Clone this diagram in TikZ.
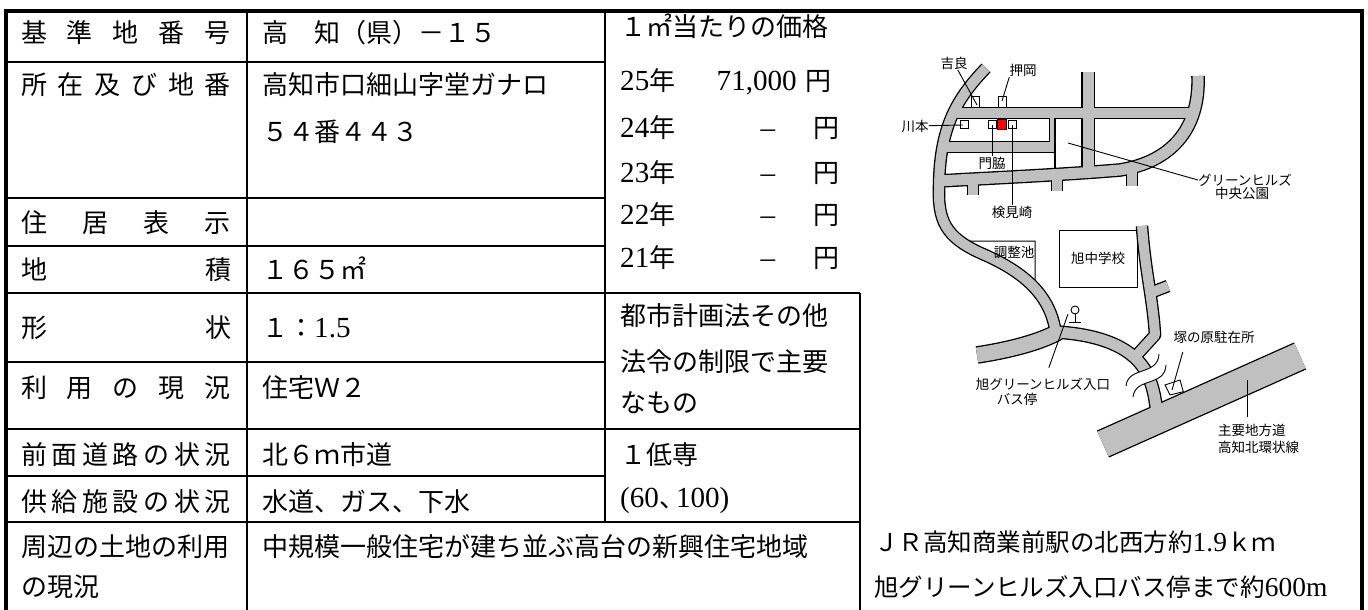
\documentclass[tikz,border=0pt]{standalone}
\usepackage{fontspec}
\usetikzlibrary{calc}
\setmainfont{Noto Sans CJK JP}
\newfontfamily\lat[Scale=1.12]{Liberation Serif}
\definecolor{roadgray}{RGB}{192,192,192}
\newcommand\spread[1]{\makebox[210pt][s]{#1}}
\tikzset{
  cell/.style={anchor=west, inner sep=0pt, font=\fontsize{26}{30}\selectfont, text height=22.9pt, text depth=3.1pt},
  lbl/.style={cell, anchor=center},
  note/.style={anchor=west, inner sep=0pt, font=\fontsize{24.5}{28}\selectfont, text height=21.6pt, text depth=2.9pt},
  tag/.style={inner sep=0pt, font=\fontsize{13.5}{15}\selectfont, text height=11.9pt, text depth=1.6pt},
  outer/.style={line width=3.5pt},
  inner/.style={line width=2.2pt},
  leader/.style={line width=0.9pt},
  house/.style={draw, fill=white, line width=0.9pt}
}
\begin{document}
\begin{tikzpicture}[x=1pt, y=-1pt]
  \useasboundingbox (0,0) rectangle (1368,610);
  \draw[outer] (6,610) -- (6,11) -- (1362,11) -- (1362,610);
  \draw[inner] (247,11) -- (247,610) (605,11) -- (605,522) (860,293) -- (860,610);
  \foreach \y in {62,198,246,362,476}
    \draw[inner] (6,\y) -- (605,\y);
  \foreach \y in {293,429,522}
    \draw[inner] (6,\y) -- (860,\y);

  \draw
    (126,33) node[lbl] (kijun) {\spread{基 準 地 番 号}}
    (126,85) node[lbl] (shozai) {\spread{所 在 及 び 地 番}}
    (126,223) node[lbl] (jukyo) {\spread{住 居 表 示}}
    (126,270) node[lbl] (chiseki) {\spread{地 積}}
    (126,328) node[lbl] (keijo) {\spread{形 状}}
    (126,388) node[lbl] (riyo) {\spread{利 用 の 現 況}}
    (126,455) node[lbl] (zenmen) {\spread{前 面 道 路 の 状 況}}
    (126,502) node[lbl] (kyokyu) {\spread{供 給 施 設 の 状 況}}
    (21,547) node[cell] (shuhen) {周辺の土地の利用}
    (21,587) node[cell] (shuhenb) {の現況};
  \draw
    (262,33) node[cell] (bango) {高　知（県）－１５}
    (262,85) node[cell] (chiban) {高知市口細山字堂ガナロ}
    (262,132) node[cell] (chibanb) {５４番４４３}
    (262,270) node[cell] (menseki) {１６５㎡}
    (262,328) node[cell] (katachi) {１：{\lat 1.5}}
    (262,388) node[cell] (genkyo) {住宅Ｗ２}
    (262,455) node[cell] (doro) {北６ｍ市道}
    (262,502) node[cell] (shisetsu) {水道、ガス、下水}
    (262,547) node[cell] (chiiki) {中規模一般住宅が建ち並ぶ高台の新興住宅地域};
  \draw
    (620,27) node[cell] (kakaku) {１㎡当たりの価格}
    (620,81) node[cell] (y25) {{\lat 25}年}
    (797,81) node[cell, anchor=east] (p25) {\lat 71,000}
    (818,81) node[lbl] (e25) {円};
  \foreach \yr/\y in {24/128, 23/173, 22/215, 21/258}
    \draw (620,\y) node[cell] (y\yr) {{\lat\yr}年}
          (768,\y) node[lbl] (d\yr) {\lat –}
          (826,\y) node[lbl] (e\yr) {円};
  \draw
    (620,316) node[cell] (toshi) {都市計画法その他}
    (620,362) node[cell] (horei) {法令の制限で主要}
    (620,403) node[cell] (namono) {なもの}
    (620,455) node[cell] (teisen) {１低専}
    (620,498) node[cell] (yoseki) {{\lat (60}、\kern-9pt{\lat 100)}}
    (874,542) node[note] (eki) {ＪＲ高知商業前駅の北西方約{\lat 1.9}ｋｍ}
    (874,587) node[note] (bus) {旭グリーンヒルズ入口バス停まで約{\lat 600m}};

  \draw[line width=1pt] (969,241) -- (1035,241) -- (1035,284) -- cycle;
  \draw (1098,258.5) node[tag, draw, line width=1pt, minimum width=78pt, minimum height=57pt] (school) {旭中学校};

  \foreach \ink/\extra in {black/2.6pt, roadgray/0pt} {
    \begin{scope}[color=\ink, line join=round]
      \draw[line width=10pt+\extra] (986,68) .. controls (955,100) and (939,130) .. (939,190)
        .. controls (938,225) and (950,240) .. (985,255) .. controls (1030,275) and (1052,300) .. (1056,335);
      \draw[line width=15pt+\extra] (977,355) .. controls (1010,350) and (1040,342) .. (1058,332);
      \draw[line width=11pt+\extra] (1055,332) .. controls (1095,334) and (1130,345) .. (1145,370)
        .. controls (1152,382) and (1155,395) .. (1157,414);
      \draw[line width=10pt+\extra] (1142,226) .. controls (1145,270) and (1153,300) .. (1155,335) -- (1135,357);
      \draw[line width=10pt+\extra] (1150,293) -- (1168,286);
      \draw[line width=10pt+\extra] (957,113) -- (1196,113);
      \draw[line width=11pt+\extra] (1198,76) .. controls (1200,130) and (1170,162) .. (1120,170)
        .. controls (1060,175) and (990,178) .. (939,181);
      \draw[line width=11pt+\extra] (1088,72) -- (1088,172);
      \draw[line width=10pt+\extra] (944,147) -- (1055,147);
      \draw[line width=5pt+\extra] (1052.5,113) -- (1052.5,147);
      \foreach \sx/\sy in {973/178, 1057/174, 1132/169}
        \draw[line width=10pt+\extra] (\sx,\sy) -- (\sx,\sy+17);
      \draw[line width=27pt+\extra] (1103,444) -- (1300,356);
    \end{scope}
  }
  \draw[line width=1.3pt] (1055,118) -- (1055,169);

  \fill[white] (1126,386) .. controls (1128,366) and (1158,376) .. (1159,354) -- (1166,365)
    .. controls (1165,387) and (1135,377) .. (1133,397) -- cycle;
  \draw[line width=0.9pt] (1126,386) .. controls (1128,366) and (1158,376) .. (1159,354)
    (1133,397) .. controls (1135,377) and (1165,387) .. (1166,365);

  \draw[house] (971.7,96) rectangle (979.3,107.5);
  \draw[house] (998.3,96) rectangle (1006.7,107.5);
  \draw[house] (960,120.5) rectangle (968.3,128.5);
  \draw[house] (988.3,120.5) rectangle (996,128.5);
  \draw[house, fill=red] (997.3,119.5) rectangle (1006,129.5);
  \draw[house] (1008.3,120.5) rectangle (1016,128.5);
  \draw[house] (1165,385) -- (1180,380) -- (1183.3,391.7) -- (1170,395) -- cycle;

  \draw (1075,310) node[circle, draw, fill=white, line width=0.9pt, inner sep=0pt, minimum size=8pt] (pole) {};
  \coordinate (polefoot) at (1075,322);
  \draw[line width=0.9pt] (pole) -- (polefoot) ([xshift=-6pt]polefoot) -- ([xshift=6pt]polefoot);

  \draw
    (954,63) node[tag] (kira) {吉良}
    (1023,70) node[tag] (oshioka) {押岡}
    (915,126) node[tag] (kawamoto) {川本}
    (992,163) node[tag] (kadowaki) {門脇}
    (1012,212) node[tag] (kemizaki) {検見崎}
    (1245,180) node[tag] (park) {グリーンヒルズ}
    (1242,193) node[tag] (parkb) {中央公園}
    (1014,252) node[tag] (pond) {調整池}
    (1043,384) node[tag] (stop) {旭グリーンヒルズ入口}
    (1017,399) node[tag] (stopb) {バス停}
    (1214,337) node[tag] (koban) {塚の原駐在所}
    (1218,430) node[tag, anchor=west] (route) {主要地方道}
    (1218,447) node[tag, anchor=west] (routeb) {高知北環状線};

  \coordinate (kiraspot) at (977,105);
  \coordinate (oshiokaspot) at (1002,101);
  \coordinate (kawamotospot) at (963,125);
  \coordinate (kadowakispot) at (992,125);
  \coordinate (kemizakispot) at (1012,125);
  \coordinate (parkspot) at (1068,143);
  \coordinate (stopspot) at (1068,314);
  \coordinate (kobanspot) at (1172,390);
  \coordinate (routespot) at (1247,380);
  \begin{scope}[leader]
    \draw (kira) -- (kiraspot);
    \draw (oshioka.south west) -- (oshiokaspot);
    \draw (kawamoto) -- (kawamotospot);
    \draw (kadowakispot) -- (kadowakispot |- kadowaki.north);
    \draw (kemizakispot) -- (kemizakispot |- kemizaki.north);
    \draw (park.west) -- (parkspot);
    \draw[shorten <=10pt] (stop) -- (stopspot);
    \draw ($(koban.south west)+(9.5,8)$) -- (kobanspot);
    \draw[shorten >=6pt] (routespot) -- (routespot |- route.north);
  \end{scope}
\end{tikzpicture}
\end{document}
